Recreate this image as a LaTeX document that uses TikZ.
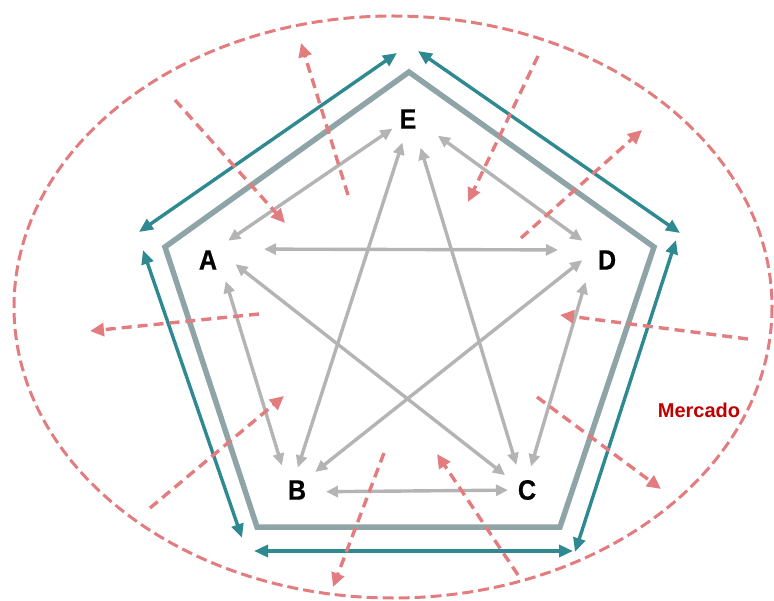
\documentclass[tikz,border=0pt]{standalone}
\usepackage{fontspec}
\setmainfont{Liberation Sans}
\newfontfamily\lblfont{Liberation Sans}[FakeStretch=0.9,FakeBold=0.6]
\usetikzlibrary{arrows.meta}
\definecolor{rdash}{HTML}{E37C7E}
\definecolor{tealc}{HTML}{2E8990}
\definecolor{pgray}{HTML}{8FA4A7}
\definecolor{agray}{HTML}{B4B4B4}
\definecolor{mred}{HTML}{C00000}
\tikzset{
  hub/.style={inner sep=0pt, minimum size=0pt, outer sep=0pt},
  lbl/.style={font=\lblfont\fontsize{28}{28}\selectfont\bfseries, text=black, inner sep=0pt},
  garrow/.style={draw=agray, line width=3.4pt, {Triangle[length=12pt,width=11pt]}-{Triangle[length=12pt,width=11pt]}},
  tarrow/.style={draw=tealc, line width=3.4pt, {Triangle[length=14pt,width=12pt]}-{Triangle[length=14pt,width=12pt]}},
  rarrow/.style={draw=rdash, line width=3.4pt, dash pattern=on 10pt off 6pt, -{Triangle[length=14pt,width=13pt]}},
  penta/.style={draw=pgray, line width=5.5pt, line join=miter},
}
\begin{document}
\begin{tikzpicture}[x=1pt, y=-1pt]
\useasboundingbox (0,0) rectangle (774,601);
% market ellipse
\draw[rdash, line width=3pt, dash pattern=on 11pt off 5pt] (393,307) ellipse [x radius=379, y radius=291];
\node[text=mred, font=\fontsize{20}{20}\selectfont\bfseries, inner sep=0pt] (merc) at (699,410) {Mercado};
% pentagon
\draw[penta] (409,72) -- (654,247) -- (560,527) -- (257,527) -- (165,247) -- cycle;
% teal arrows
\draw[tarrow] (139,232) -- (397,53);
\draw[tarrow] (418,51) -- (680,233);
\draw[tarrow] (143,250) -- (242,538);
\draw[tarrow] (676,240) -- (575,552);
\draw[tarrow] (254,551) -- (573,551);
% hubs and labels
\node[hub] (A) at (216,249) {};
\node[hub] (E) at (411,116) {};
\node[hub] (D) at (595,250) {};
\node[hub] (B) at (290,492) {};
\node[hub] (C) at (524,490) {};
\node[lbl] (lA) at (208,260) {A};
\node[lbl] (lE) at (408,119) {E};
\node[lbl] (lD) at (607,260) {D};
\node[lbl] (lB) at (297,490) {B};
\node[lbl] (lC) at (527,490) {C};
% gray arrows
\draw[garrow, shorten <=22.5pt, shorten >=14.8pt] (E) -- (A);
\draw[garrow, shorten <=33.4pt, shorten >=15.7pt] (E) -- (D);
\draw[garrow, shorten <=48pt, shorten >=37pt] (A) -- (D);
\draw[garrow, shorten <=27.9pt, shorten >=25.7pt] (E) -- (B);
\draw[garrow, shorten <=33.2pt, shorten >=26.2pt] (E) -- (C);
\draw[garrow, shorten <=24.7pt, shorten >=24.1pt] (A) -- (C);
\draw[garrow, shorten <=16.4pt, shorten >=32.2pt] (D) -- (B);
\draw[garrow, shorten <=33.5pt, shorten >=27.7pt] (A) -- (B);
\draw[garrow, shorten <=33.4pt, shorten >=24.7pt] (D) -- (C);
\draw[garrow, shorten <=36pt, shorten >=16pt] (B) -- (C);
% market forces
\draw[rarrow] (348,195) -- (301,43);
\draw[rarrow] (175,100) -- (285,223);
\draw[rarrow] (538,56) -- (468,202);
\draw[rarrow] (521,238) -- (642,130);
\draw[rarrow] (259,314) -- (90,331);
\draw[rarrow] (748,339) -- (560,315);
\draw[rarrow] (150,508) -- (284,396);
\draw[rarrow] (537,397) -- (661,489);
\draw[rarrow] (384,453) -- (333,587);
\draw[rarrow] (518,575) -- (437,454);
\end{tikzpicture}
\end{document}
